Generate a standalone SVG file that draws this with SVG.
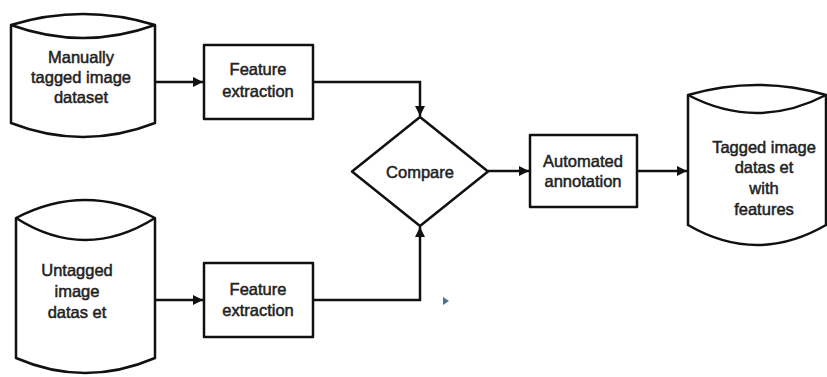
<svg xmlns="http://www.w3.org/2000/svg" width="827" height="377" viewBox="0 0 827 377">
<style>
.s{fill:#fff;stroke:#111;stroke-width:2.5;stroke-linejoin:round}
.c{fill:none;stroke:#111;stroke-width:2.5}
.t{font-family:"Liberation Sans",Arial,sans-serif;font-size:16.5px;fill:#222;stroke:#222;stroke-width:0.5;text-anchor:middle}
</style>
<defs>
<marker id="ah" markerUnits="userSpaceOnUse" markerWidth="11" markerHeight="10" refX="10" refY="5" orient="auto">
<path d="M0,0 L10,5 L0,10 z" fill="#111"/>
</marker>
</defs>
<rect width="827" height="377" fill="#fff"/>
<g id="connectors">
<line class="c" x1="155" y1="82" x2="203" y2="82" marker-end="url(#ah)"/>
<line class="c" x1="155" y1="300" x2="203" y2="300" marker-end="url(#ah)"/>
<path class="c" d="M313,82 H420 V116" marker-end="url(#ah)"/>
<path class="c" d="M313,300 H420 V227" marker-end="url(#ah)"/>
<line class="c" x1="488" y1="171" x2="529" y2="171" marker-end="url(#ah)"/>
<line class="c" x1="637" y1="171" x2="687" y2="171" marker-end="url(#ah)"/>
</g>
<g id="db-manual">
<path class="s" d="M11,25 Q83,3 155,25 V123 Q83,151 11,123 Z"/>
<path class="c" d="M11,25 Q83,51 155,25"/>
<text class="t" x="81" y="63">Manually</text>
<text class="t" x="81" y="83">tagged image</text>
<text class="t" x="81" y="103">dataset</text>
</g>
<g id="db-untagged">
<path class="s" d="M16,218 Q85,182 155,218 V358 Q85,388 16,358 Z"/>
<path class="c" d="M16,218 Q85,262 155,218"/>
<text class="t" x="77" y="276">Untagged</text>
<text class="t" x="77" y="297">image</text>
<text class="t" x="77" y="318">datas et</text>
</g>
<g id="fe1">
<rect class="s" x="204" y="45" width="109" height="74"/>
<text class="t" x="258" y="75">Feature</text>
<text class="t" x="258" y="97">extraction</text>
</g>
<g id="fe2">
<rect class="s" x="204" y="263" width="109" height="74"/>
<text class="t" x="258" y="295">Feature</text>
<text class="t" x="258" y="316">extraction</text>
</g>
<g id="compare">
<path class="s" d="M420,117 L488,171.5 L420,226 L352,171.5 Z"/>
<text class="t" x="420" y="178">Compare</text>
</g>
<g id="auto">
<rect class="s" x="530" y="135" width="107" height="72"/>
<text class="t" x="583" y="167">Automated</text>
<text class="t" x="583" y="187">annotation</text>
</g>
<g id="db-tagged">
<path class="s" d="M688,95 Q757,75 826,95 V225 Q757,265 688,225 Z"/>
<path class="c" d="M688,95 Q757,131 826,95"/>
<text class="t" x="764" y="153">Tagged image</text>
<text class="t" x="764" y="173">datas et</text>
<text class="t" x="764" y="194">with</text>
<text class="t" x="764" y="215">features</text>
</g>
<path d="M443,297 L449,301 L443,305 Z" fill="#4f6f8f"/>
</svg>
